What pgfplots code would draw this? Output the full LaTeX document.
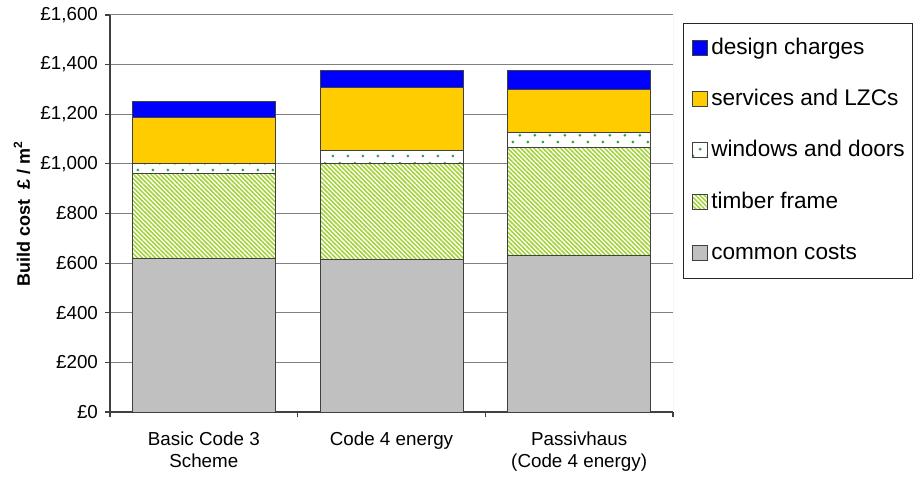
\documentclass[border=0pt]{standalone}
\usepackage{pgfplots}
\pgfplotsset{compat=1.18}
\usepackage{fontspec}
\setmainfont{Liberation Sans}
\usetikzlibrary{patterns}

% fine diagonal stripes for the timber frame band
\pgfdeclarepatternformonly{frameNW}{\pgfqpoint{-1pt}{-1pt}}{\pgfqpoint{3.2pt}{3.2pt}}{\pgfqpoint{2.2pt}{2.2pt}}{%
  \pgfsetlinewidth{0.65pt}%
  \pgfpathmoveto{\pgfqpoint{-1pt}{3.2pt}}\pgfpathlineto{\pgfqpoint{3.2pt}{-1pt}}\pgfusepath{stroke}}
% sparse staggered dots for windows and doors
\pgfdeclarepatternformonly{sparsedots}{\pgfqpoint{0pt}{0pt}}{\pgfqpoint{7.5pt}{7pt}}{\pgfqpoint{7.5pt}{7pt}}{%
  \pgfpathcircle{\pgfqpoint{1.5pt}{1.6pt}}{0.8pt}%
  \pgfpathcircle{\pgfqpoint{5.25pt}{5.1pt}}{0.8pt}%
  \pgfusepath{fill}}

\definecolor{cdesign}{RGB}{0,0,255}
\definecolor{cservices}{RGB}{255,204,0}
\definecolor{cdots}{RGB}{50,160,70}
\definecolor{ctimber}{RGB}{165,212,60}
\definecolor{ccommon}{RGB}{192,192,192}
\definecolor{cgrid}{RGB}{128,128,128}
\definecolor{caxis}{RGB}{64,64,64}

\pgfplotsset{
  sqleg/.style={legend image code/.code={\draw[##1] (0pt,-3.4pt) rectangle (7.5pt,4.1pt);}},
  barstyle/.style={draw=black!75, line width=0.5pt, sqleg},
}

\begin{document}
\begin{tikzpicture}
\useasboundingbox (-55pt,-34.5pt) rectangle (402pt,206pt);
\begin{axis}[
  at={(0pt,0pt)}, anchor=south west,
  scale only axis,
  width=281.5pt, height=198.5pt,
  ybar stacked,
  bar width=71.5pt,
  xmin=-0.5, xmax=2.5,
  ymin=0, ymax=1600,
  xtick={0,1,2},
  xticklabels={{Basic Code 3\\Scheme},{Code 4 energy},{Passivhaus\\(Code 4 energy)}},
  minor xtick={-0.5,0.5,1.5,2.5},
  ytick={0,200,...,1600},
  axis x line*=bottom, axis y line*=left,
  axis line style={-, draw=caxis, line width=0.6pt},
  tick align=outside,
  major tick length=2.5pt, minor tick length=2.5pt,
  xtick style={draw=none},
  minor x tick style={draw=caxis, line width=0.6pt},
  ytick style={draw=caxis, line width=0.6pt},
  ymajorgrids,
  grid style={cgrid, line width=0.5pt},
  /pgf/number format/assume math mode=true,
  /pgf/number format/fixed,
  /pgf/number format/1000 sep={,},
  yticklabel={£\pgfmathprintnumber{\tick}},
  yticklabel style={font=\fontsize{9.4}{11}\selectfont},
  xticklabel style={font=\fontsize{9.4}{11}\selectfont, align=center, yshift=-4pt},
  ylabel={Build cost~ £ / m\textsuperscript{2}},
  every axis y label/.style={at={(axis description cs:-0.1563,0.5)}, rotate=90, anchor=center,
    font=\fontsize{9}{11}\selectfont\bfseries},
  reverse legend,
  legend style={at={(rel axis cs:1.0178,0.9798)}, anchor=north west,
    draw=black!85, line width=0.5pt,
    font=\fontsize{11.3}{13}\selectfont,
    inner xsep=4pt, inner ysep=7pt,
    row sep=15pt,
    nodes={inner sep=0pt, text height=8.3pt, text depth=2.4pt},
    legend cell align=left},
]
\addplot[barstyle, fill=ccommon] coordinates {(0,620) (1,616) (2,632)};
\addlegendentry{\,common costs}
\addplot[barstyle, preaction={fill=white}, pattern=frameNW, pattern color=ctimber] coordinates {(0,340) (1,387) (2,434)};
\addlegendentry{\,timber frame}
\addplot[barstyle, preaction={fill=white}, pattern=sparsedots, pattern color=cdots] coordinates {(0,43) (1,51) (2,62)};
\addlegendentry{\,windows and doors}
\addplot[barstyle, fill=cservices] coordinates {(0,185) (1,255) (2,170)};
\addlegendentry{\,services and LZCs}
\addplot[barstyle, fill=cdesign] coordinates {(0,62) (1,66) (2,77)};
\addlegendentry{\,design charges}
\draw[gray!55, line width=0.5pt] (rel axis cs:1,0) -- (rel axis cs:1,1);
\end{axis}
\end{tikzpicture}
\end{document}
